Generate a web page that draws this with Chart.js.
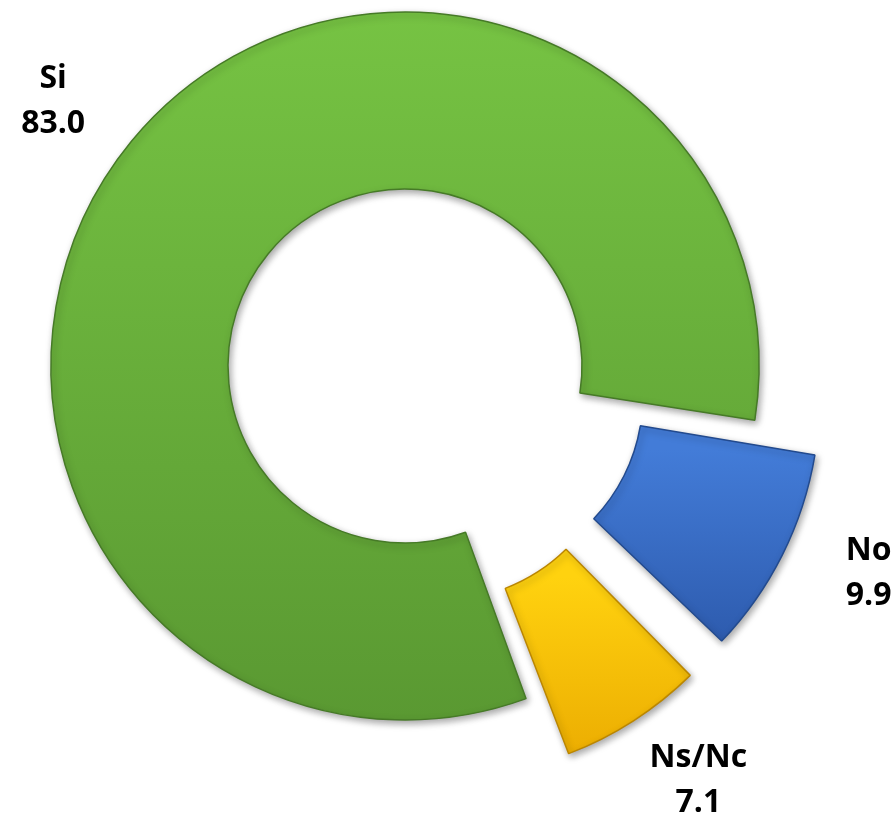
<!DOCTYPE html>
<html>
<head>
<meta charset="utf-8">
<style>
  html, body { margin: 0; padding: 0; background: #fff; }
  #wrap { width: 895px; height: 815px; }
</style>
</head>
<body>
<div id="wrap"><canvas id="donut" width="895" height="815"></canvas></div>
<script src="https://cdn.jsdelivr.net/npm/chart.js@4/dist/chart.umd.min.js"></script>
<script>
/* ---- Data ---- */
const labels = ["Si", "No", "Ns/Nc"];
const values = [83.0, 9.9, 7.1];

/* ---- Look ---- */
const explode = [0, 68, 68];                 // px each slice is pulled out
const topColors = ["#76C343", "#437CD8", "#FFD20F"];
const bottomColors = ["#5A9932", "#2C59AB", "#EAA900"];
const edgeColors = ["#467A27", "#224A8E", "#BB8600"];

const RING_R = 354;
const LABEL_GAP = 86;
const LINE_H = 45;
const LABEL_SHIFT = 2.5 * Math.PI / 180;     // Excel puts labels a touch anticlockwise

// vertical gradient fitted to each slice's own extent
function sliceFill(ctx){
  const i = ctx.dataIndex;
  const el = ctx.element;
  if(!el || typeof el.x !== "number" || !el.outerRadius) return topColors[i];
  const mid = (el.startAngle + el.endAngle) / 2;
  const cy = el.y + Math.sin(mid) * explode[i];
  let top = Infinity, bottom = -Infinity;
  for(let k = 0; k <= 24; k++){
    const a = el.startAngle + (el.endAngle - el.startAngle) * k / 24;
    [el.innerRadius, el.outerRadius].forEach(r => {
      const y = cy + Math.sin(a) * r;
      top = Math.min(top, y);
      bottom = Math.max(bottom, y);
    });
  }
  const g = ctx.chart.ctx.createLinearGradient(0, top, 0, bottom);
  g.addColorStop(0, topColors[i]);
  g.addColorStop(1, bottomColors[i]);
  return g;
}

// Chart.js grows exploded arcs; keep them the same ring size as the rest
const keepRadius = {
  id: "keepRadius",
  afterDatasetUpdate(chart, args){
    args.meta.data.forEach(arc => {
      const off = (arc.options && arc.options.offset || 0) / 4;
      if(!off) return;
      const fix = 1 - Math.sin(Math.min(Math.PI, arc.circumference));
      arc.outerRadius -= off * fix;
      arc.innerRadius -= off * fix;
    });
  }
};

const softShadow = {
  id: "softShadow",
  beforeDatasetsDraw(chart){
    const c = chart.ctx;
    c.save();
    c.shadowColor = "rgba(0,0,0,0.35)";
    c.shadowBlur = 7;
    c.shadowOffsetX = 2;
    c.shadowOffsetY = 3;
  },
  afterDatasetsDraw(chart){
    chart.ctx.restore();
  }
};

const outsideLabels = {
  id: "outsideLabels",
  afterDatasetsDraw(chart){
    const c = chart.ctx;
    const meta = chart.getDatasetMeta(0);
    const ringR = meta.controller.outerRadius;
    c.save();
    c.font = "700 32px 'Open Sans'";
    c.fillStyle = "#000";
    c.textAlign = "center";
    c.textBaseline = "middle";
    meta.data.forEach((arc, i) => {
      const mid = (arc.startAngle + arc.endAngle) / 2 - LABEL_SHIFT;
      const r = ringR + explode[i] + LABEL_GAP;
      const x = arc.x + Math.cos(mid) * r;
      const y = arc.y + Math.sin(mid) * r;
      c.fillText(labels[i], x, y - LINE_H / 2);
      c.fillText(values[i].toFixed(1), x, y + LINE_H / 2);
    });
    c.restore();
  }
};

const chart = new Chart(document.getElementById("donut"), {
  type: "doughnut",
  data: {
    labels: labels,
    datasets: [{
      data: values,
      backgroundColor: sliceFill,
      borderColor: edgeColors,
      borderWidth: 1.5,
      offset: explode.map(v => v * 4),
      clip: false
    }]
  },
  options: {
    responsive: false,
    animation: false,
    events: [],
    rotation: 160,
    cutout: "50%",
    radius: RING_R,
    layout: { padding: { left: 0, right: 85, top: 0, bottom: 83 } },
    plugins: {
      legend: { display: false },
      tooltip: { enabled: false }
    }
  },
  plugins: [keepRadius, softShadow, outsideLabels]
});

// second pass so the gradients can read the laid-out arcs
chart.update();
</script>
</body>
</html>
